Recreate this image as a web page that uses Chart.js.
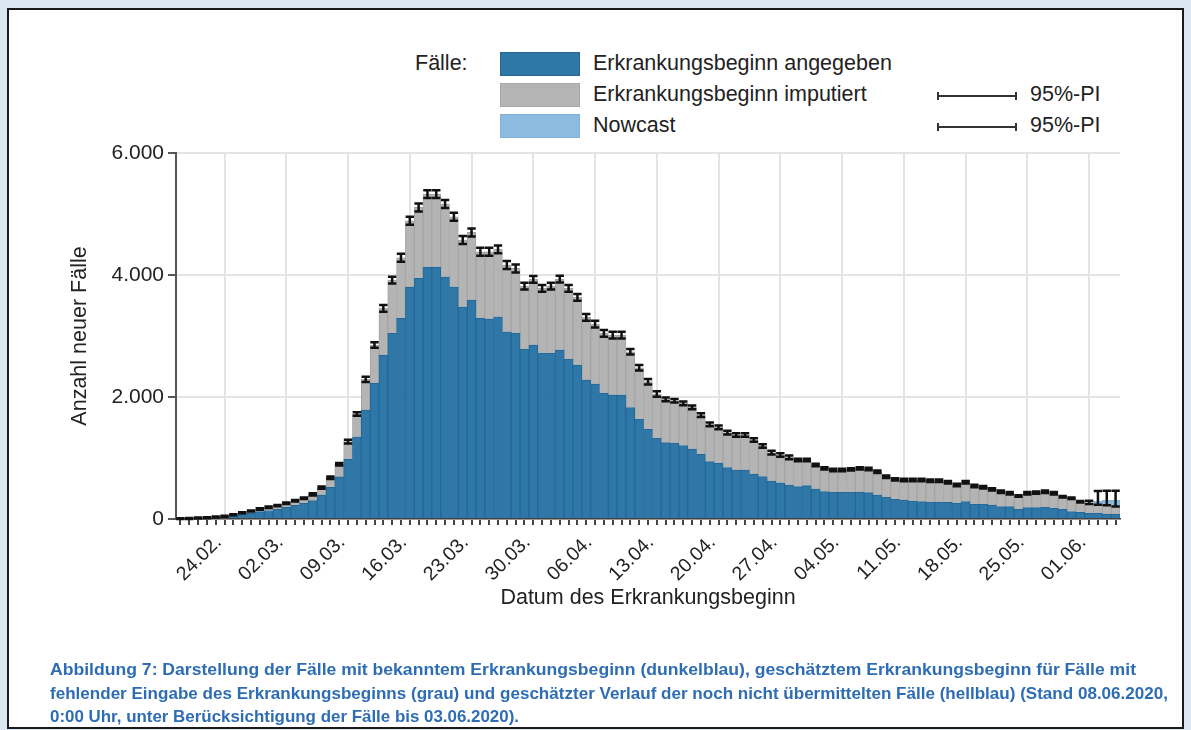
<!DOCTYPE html>
<html lang="de">
<head>
<meta charset="utf-8">
<title>Fälle nach Erkrankungsbeginn</title>
<script src="https://cdn.jsdelivr.net/npm/chart.js@4.4.1/dist/chart.umd.min.js"></script>
<style>
  html, body { margin: 0; padding: 0; }
  body { width: 1191px; height: 730px; background: #dce6f2; position: relative; overflow: hidden;
         font-family: "Liberation Sans", Arial, sans-serif; color: #222; }
  #box { position: absolute; left: 7px; top: 8px; width: 1177px; height: 721px; background: #fff;
         border: 2px solid #1a1a1a; box-sizing: border-box; }
  #chart { position: absolute; left: 0; top: 0; }
  .lg { position: absolute; font-size: 21.5px; line-height: 26px; white-space: nowrap; }
  .sw { position: absolute; left: 500px; width: 80px; height: 24px; box-sizing: border-box; }
  .pi { position: absolute; left: 937px; width: 80px; height: 8px; box-sizing: border-box;
        border-left: 2px solid #333; border-right: 2px solid #333; }
  .pi::after { content: ""; position: absolute; left: 0; right: 0; top: 3px; height: 2px; background: #333; }
  #caption { position: absolute; left: 50px; top: 658px; color: #2e6db4; font-weight: bold;
             font-family: "Liberation Sans", Arial, sans-serif;
             font-size: 17px; line-height: 23.5px; white-space: nowrap; }
  #caption span { display: inline-block; transform-origin: 0 0; }
</style>
</head>
<body>
<div id="box"></div>
<div class="lg" style="left:415px; top:50px;">Fälle:</div>
<div class="sw" style="top:52px; background:#2f77a6; border:1px solid #2a6590;"></div>
<div class="sw" style="top:83px; background:#b4b4b4; border:1px solid #a8a8a8;"></div>
<div class="sw" style="top:114px; background:#8dbadf; border:1px solid #84b2d6;"></div>
<div class="lg" style="left:593px; top:50px;">Erkrankungsbeginn angegeben</div>
<div class="lg" style="left:593px; top:81px;">Erkrankungsbeginn imputiert</div>
<div class="lg" style="left:593px; top:112px;">Nowcast</div>
<div class="pi" style="top:92px;"></div>
<div class="pi" style="top:123px;"></div>
<div class="lg" style="left:1030px; top:81px;">95%-PI</div>
<div class="lg" style="left:1030px; top:112px;">95%-PI</div>
<canvas id="chart" width="1191" height="730"></canvas>
<div id="caption"><span data-w="1086">Abbildung 7: Darstellung der Fälle mit bekanntem Erkrankungsbeginn (dunkelblau), geschätztem Erkrankungsbeginn für Fälle mit</span><br><span data-w="1118">fehlender Eingabe des Erkrankungsbeginns (grau) und geschätzter Verlauf der noch nicht übermittelten Fälle (hellblau) (Stand 08.06.2020,</span><br><span data-w="469">0:00 Uhr, unter Berücksichtigung der Fälle bis 03.06.2020).</span></div>
<script>
// one bar per day, first day 19.02.2020
const startDay = new Date(2020, 1, 19);
const weekLabels = ['24.02.', '02.03.', '09.03.', '16.03.', '23.03.', '30.03.', '06.04.', '13.04.',
  '20.04.', '27.04.', '04.05.', '11.05.', '18.05.', '25.05.', '01.06.'];

// Erkrankungsbeginn angegeben
const dark = [3, 6, 10, 15, 22, 30, 50, 75, 95, 120,
  140, 160, 190, 225, 255, 300, 393, 520, 690, 978,
  1349, 1786, 2224, 2688, 3043, 3289, 3800, 3944, 4125, 4125,
  3972, 3808, 3480, 3589, 3289, 3278, 3316, 3070, 3043, 2781,
  2852, 2715, 2715, 2770, 2617, 2524, 2278, 2213, 2060, 2032,
  2032, 1825, 1633, 1470, 1322, 1251, 1240, 1202, 1147, 1060,
  940, 912, 841, 803, 803, 738, 694, 623, 595, 557,
  530, 546, 492, 448, 437, 437, 437, 440, 432, 393,
  355, 322, 311, 295, 284, 273, 273, 273, 257, 284,
  240, 240, 229, 202, 202, 158, 186, 186, 191, 175,
  158, 120, 109, 93, 93, 82, 76];

// Erkrankungsbeginn imputiert
const gray = [2, 4, 5, 7, 11, 14, 21, 29, 36, 44,
  51, 59, 67, 75, 84, 104, 121, 157, 206, 290,
  372, 503, 628, 765, 874, 994, 1090, 1164, 1201, 1201,
  1191, 1147, 1093, 1109, 1092, 1103, 1104, 1093, 1065, 1038,
  1076, 1065, 1104, 1163, 1163, 1109, 1027, 983, 983, 984,
  984, 917, 847, 781, 727, 710, 699, 694, 683, 644,
  611, 590, 574, 574, 574, 557, 502, 464, 454, 454,
  437, 421, 393, 382, 366, 366, 377, 390, 387, 383,
  339, 328, 328, 344, 355, 355, 355, 328, 300, 317,
  301, 279, 257, 246, 219, 219, 235, 246, 257, 246,
  208, 219, 175, 164, 153, 148, 126];

// Nowcast, only for the last days
const nowcastStart = 103;
const nowcast = [10, 45, 75, 105];

// 95%-PI
const errLow = [0, 2, 7, 14, 25, 36, 63, 96, 123, 152,
  179, 207, 245, 288, 327, 384, 494, 657, 876, 1238,
  1691, 2244, 2807, 3398, 3862, 4218, 4825, 5043, 5261, 5261,
  5098, 4890, 4508, 4633, 4316, 4316, 4355, 4098, 4043, 3764,
  3873, 3725, 3764, 3878, 3725, 3578, 3250, 3141, 2988, 2961,
  2961, 2697, 2435, 2206, 2004, 1931, 1909, 1866, 1800, 1674,
  1521, 1472, 1385, 1347, 1347, 1265, 1166, 1057, 1019, 981,
  947, 947, 865, 810, 783, 783, 794, 810, 799, 756,
  674, 630, 619, 619, 619, 608, 608, 581, 537, 581,
  521, 499, 466, 428, 401, 365, 401, 412, 428, 401,
  354, 327, 272, 245, 235, 225, 205];
const errHigh = [13, 18, 23, 30, 41, 52, 79, 112, 139, 176,
  203, 231, 269, 312, 351, 424, 534, 697, 916, 1298,
  1751, 2334, 2897, 3508, 3972, 4348, 4955, 5173, 5391, 5391,
  5228, 5020, 4638, 4763, 4446, 4446, 4485, 4228, 4173, 3874,
  3983, 3835, 3874, 3988, 3835, 3688, 3360, 3251, 3098, 3071,
  3071, 2787, 2525, 2296, 2094, 1991, 1969, 1926, 1860, 1734,
  1581, 1532, 1445, 1407, 1407, 1325, 1226, 1117, 1079, 1041,
  987, 987, 905, 850, 823, 823, 834, 850, 839, 796,
  714, 670, 659, 659, 659, 648, 648, 621, 577, 621,
  561, 539, 506, 468, 441, 389, 441, 452, 468, 441,
  378, 351, 296, 300, 460, 465, 465];

const days = [];
for (let i = 0; i < dark.length; i++) {
  const d = new Date(startDay);
  d.setDate(startDay.getDate() + i);
  days.push(String(d.getDate()).padStart(2, '0') + '.' + String(d.getMonth() + 1).padStart(2, '0') + '.');
}
const nowcastData = dark.map((v, i) => i >= nowcastStart ? nowcast[i - nowcastStart] : 0);

function fmt(v) {
  return String(v).replace(/\B(?=(\d{3})+(?!\d))/g, '.');
}

// squeeze each caption line to the width it has in the report
document.querySelectorAll('#caption span').forEach((s) => {
  const w = s.getBoundingClientRect().width;
  s.style.transform = 'scaleX(' + (Number(s.dataset.w) / w) + ')';
});

const errorBars = {
  id: 'errorBars',
  afterDatasetsDraw(chart) {
    const ctx = chart.ctx;
    const x = chart.scales.x, y = chart.scales.y;
    ctx.save();
    ctx.strokeStyle = '#111';
    ctx.lineWidth = 2.5;
    for (let i = 0; i < errLow.length; i++) {
      const px = x.getPixelForValue(i);
      const yl = y.getPixelForValue(errLow[i]);
      const yh = y.getPixelForValue(errHigh[i]);
      ctx.beginPath();
      ctx.moveTo(px, yl); ctx.lineTo(px, yh);
      ctx.moveTo(px - 4.2, yl); ctx.lineTo(px + 4.2, yl);
      ctx.moveTo(px - 4.2, yh); ctx.lineTo(px + 4.2, yh);
      ctx.stroke();
    }
    ctx.restore();
  }
};

const ctx = document.getElementById('chart');
new Chart(ctx, {
  type: 'bar',
  data: {
    labels: days,
    datasets: [{
      label: 'Erkrankungsbeginn angegeben',
      data: dark,
      backgroundColor: '#2f77a6',
      borderColor: '#22689a',
      borderWidth: 1
    }, {
      label: 'Erkrankungsbeginn imputiert',
      data: gray,
      backgroundColor: '#b4b4b4',
      borderColor: '#a4a4a4',
      borderWidth: 1
    }, {
      label: 'Nowcast',
      data: nowcastData,
      backgroundColor: '#8dbadf',
      borderColor: '#84b2d6',
      borderWidth: 1
    }]
  },
  options: {
    responsive: false,
    animation: false,
    barPercentage: 1,
    categoryPercentage: 1,
    layout: { padding: { left: 0, top: 153, right: 71, bottom: 111 } },
    plugins: { legend: { display: false }, tooltip: { enabled: false } },
    scales: {
      x: {
        stacked: true,
        afterFit(scale) { scale.height = 100; },
        border: { color: '#444', width: 1.5 },
        grid: {
          offset: false,
          lineWidth: 2,
          color: (c) => (c.tick && c.tick.label) ? '#e4e4e4' : 'rgba(0,0,0,0)',
          tickColor: '#444',
          tickLength: 6
        },
        ticks: {
          autoSkip: false,
          minRotation: 45,
          maxRotation: 45,
          padding: 6,
          labelOffset: -6,
          color: '#222',
          font: { family: 'Liberation Sans', size: 19.5 },
          callback(value) {
            const lab = this.getLabelForValue(value);
            return weekLabels.includes(lab) ? lab : '';
          }
        },
        title: {
          display: true,
          text: 'Datum des Erkrankungsbeginn',
          color: '#222',
          font: { family: 'Liberation Sans', size: 21.5 },
          padding: { top: 0, bottom: 8 }
        }
      },
      y: {
        stacked: true,
        min: 0,
        max: 6000,
        afterFit(scale) { scale.width = 176; },
        border: { color: '#555', width: 2 },
        grid: { color: '#e4e4e4', lineWidth: 2, tickColor: '#555', tickLength: 8 },
        ticks: {
          stepSize: 2000,
          padding: 4,
          color: '#222',
          font: { family: 'Liberation Sans', size: 21 },
          callback: (v) => fmt(v)
        },
        title: {
          display: true,
          text: 'Anzahl neuer Fälle',
          color: '#222',
          font: { family: 'Liberation Sans', size: 21.5 },
          padding: { top: 67, bottom: 0 }
        }
      }
    }
  },
  plugins: [errorBars]
});
</script>
</body>
</html>
